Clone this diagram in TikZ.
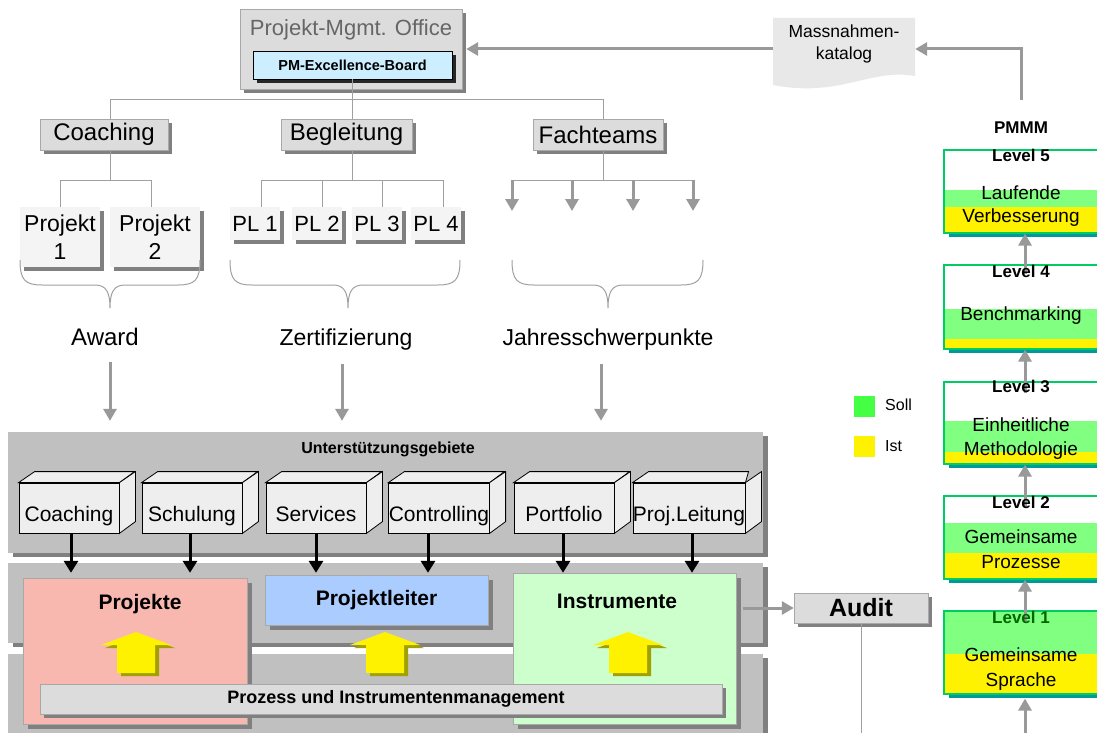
\documentclass[tikz,border=0pt]{standalone}
\usepackage{fontspec}
\setmainfont{Liberation Sans}
\usetikzlibrary{arrows.meta,shadows,calc}
\definecolor{panel}{HTML}{C0C0C0}
\definecolor{shade}{HTML}{808080}
\definecolor{boxg}{HTML}{DCDCDC}
\definecolor{boxb}{HTML}{A8A8A8}
\definecolor{lightbox}{HTML}{F4F4F4}
\definecolor{cubef}{HTML}{EEEEEE}
\definecolor{pinkf}{HTML}{F8B8B0}
\definecolor{plblue}{HTML}{AACCFF}
\definecolor{igreen}{HTML}{CCFFCC}
\definecolor{ydark}{HTML}{A0A000}
\definecolor{lvborder}{HTML}{00CC66}
\definecolor{lvgreen}{HTML}{80FF80}
\definecolor{lvshadow}{HTML}{009999}
\definecolor{sollg}{HTML}{44FF44}
\definecolor{arrg}{HTML}{999999}
\definecolor{pmblue}{HTML}{CCEEFF}
\definecolor{docg}{HTML}{E8E8E8}
\definecolor{treeg}{HTML}{A0A0A0}
\newcommand\cubefaces[1]{%
 \draw[fill=cubef,line width=0.8pt] (#1.north west) -- ++(16,-11) -- ++(100,0) -- (#1.north east) -- cycle;
 \draw[fill=cubef,line width=0.8pt] (#1.north east) -- ++(16,-11) -- ++(0,50) -- (#1.south east) -- cycle;}
\newcommand\bracep[4]{%
 \draw[tree] (#1,#4) .. controls (#1,#4+20) and (#1+5,#4+25) .. (#1+22,#4+25) -- (#3-15,#4+25) .. controls (#3-4,#4+25) and (#3,#4+32) .. (#3,#4+48) .. controls (#3,#4+32) and (#3+4,#4+25) .. (#3+15,#4+25) -- (#2-22,#4+25) .. controls (#2-5,#4+25) and (#2,#4+20) .. (#2,#4);}
\newcommand\lvbox[6]{% name, top, bottom, greentop, yellowtop, centery
 \fill[lvshadow] (949,#3) rectangle (1100,#3+4);
 \fill[white] (944,#2) rectangle (1100,#3);
 \fill[lvgreen] (944,#4) rectangle (1100,#5);
 \fill[yellow] (944,#5) rectangle (1100,#3);
 \node[draw=lvborder,line width=1.2pt,inner sep=0,minimum width=156pt,minimum height=#3pt-#2pt] (#1) at (1022,#6) {};}
\tikzset{
 fs/.style={font=\fontsize{#1}{#1}\selectfont},
 fb/.style={font=\fontsize{#1}{#1}\selectfont\bfseries},
 tree/.style={draw=treeg,line width=1pt},
 garrow/.style={draw=arrg,line width=3pt,-{Triangle[length=12pt,width=13pt]}},
 barrow/.style={draw=black,line width=3pt,-{Triangle[length=12pt,width=14pt]}},
 shbox/.style={draw=boxb,fill=boxg,inner sep=0,drop shadow={shadow xshift=4pt,shadow yshift=-4pt,fill=shade,opacity=1}},
 lbox/.style={fill=lightbox,inner sep=0,drop shadow={shadow xshift=4pt,shadow yshift=-4pt,fill=shade,opacity=1}},
 panelst/.style={fill=panel,inner sep=0,drop shadow={shadow xshift=5pt,shadow yshift=-4pt,fill=shade,opacity=1}},
 mainbox/.style={draw=boxb,inner sep=0,drop shadow={shadow xshift=5pt,shadow yshift=-5pt,fill=shade,opacity=1}},
 cubest/.style={draw=black,fill=cubef,line width=0.8pt,inner sep=0,minimum width=100pt,minimum height=50pt,text height=30pt,text depth=4pt,fs=21},
 yarr/.pic={
  \fill[ydark] (4,3) -- (39,16) -- (23,16) -- (23,44) -- (-15,44) -- (-15,16) -- (-31,16) -- cycle;
  \fill[yellow] (0,0) -- (35,13) -- (19,13) -- (19,41) -- (-19,41) -- (-19,13) -- (-35,13) -- cycle;}
}
\begin{document}
\begin{tikzpicture}[x=1pt,y=-1pt]
\useasboundingbox (0,0) rectangle (1097,733);
\clip (0,0) rectangle (1097,733);
\fill[white] (0,0) rectangle (1097,733);

% ---------- PMO ----------
\node[shbox,minimum width=222pt,minimum height=80pt] (pmo) at (351,49) {};
\node[fs=22,text=black!60] (pmotitle) at (351,30) {Projekt-Mgmt. Office};
\node[draw=black,fill=pmblue,inner sep=0,minimum width=199pt,minimum height=28pt,fb=14.5,
  drop shadow={shadow xshift=4pt,shadow yshift=-4pt,fill=black!85,opacity=1}] (pmb) at (352.5,65) {PM-Excellence-Board};

% ---------- Massnahmenkatalog ----------
\fill[docg] (773,18) -- (915,18) -- (915,76) .. controls (870,68) and (840,98) .. (773,85) -- cycle;
\node[inner sep=0,minimum width=142pt,minimum height=62pt] (massn) at (844,49) {};
\node[font=\fontsize{17.5}{22}\selectfont,align=center] (massnt) at (844,44) {Massnahmen-\\katalog};
\draw[garrow] (massn.west) -- ([xshift=4pt]pmo.east);
\coordinate (mstart) at (1021,100);
\draw[garrow] (mstart) |- (massn.east);

% ---------- tree ----------
\node[shbox,minimum width=128pt,minimum height=31pt,fs=24] (coach) at (104,134.5) {Coaching};
\node[shbox,minimum width=131pt,minimum height=31pt,fs=24] (beg) at (346.5,134.5) {Begleitung};
\node[shbox,minimum width=130pt,minimum height=31pt,fs=24] (fach) at (598,134.5) {Fachteams};
\draw[tree] ([xshift=6pt]coach.north) -- ++(0,-19) -| ([xshift=5pt]fach.north);
\draw[tree] (pmb.south) -- (pmb.south |- beg.north);

\node[lbox,minimum width=80pt,minimum height=60pt,font=\fontsize{23}{28}\selectfont,align=center] (p1) at (60,237) {Projekt\\1};
\node[lbox,minimum width=90pt,minimum height=60pt,font=\fontsize{23}{28}\selectfont,align=center] (p2) at (155,237) {Projekt\\2};
\draw[tree] ([xshift=6pt]coach.south) -- ++(0,30) coordinate (cb);
\draw[tree] (p1.north) |- (cb) -| ([xshift=-4pt]p2.north);

\node[lbox,minimum width=50pt,minimum height=33pt,fs=22] (pl1) at (255,223.5) {PL 1};
\node[lbox,minimum width=50pt,minimum height=33pt,fs=22] (pl2) at (317,223.5) {PL 2};
\node[lbox,minimum width=50pt,minimum height=33pt,fs=22] (pl3) at (377,223.5) {PL 3};
\node[lbox,minimum width=50pt,minimum height=33pt,fs=22] (pl4) at (436,223.5) {PL 4};
\draw[tree] ([xshift=5.5pt]beg.south) -- ++(0,30) coordinate (bb);
\draw[tree] ([xshift=6pt]pl1.north) |- (bb) -| ([xshift=7pt]pl4.north);
\draw[tree] ([xshift=5pt]pl2.north) -- ([xshift=5pt]pl2.north |- bb);
\draw[tree] ([xshift=5pt]pl3.north) -- ([xshift=5pt]pl3.north |- bb);

\draw[tree] ([xshift=5pt]fach.south) -- ++(0,30) coordinate (fb);
\coordinate (fa1) at (512,180); \coordinate (fa2) at (572,180);
\coordinate (fa3) at (633,180); \coordinate (fa4) at (693,180);
\coordinate (ft1) at (512,211); \coordinate (ft2) at (572,211);
\coordinate (ft3) at (633,211); \coordinate (ft4) at (693,211);
\draw[tree] (fa1) |- (fb) -| (fa4);
\foreach \i in {1,2,3,4} {\draw[garrow] (fa\i) -- (ft\i);}

% ---------- braces ----------
\bracep{20}{200}{110}{260}
\bracep{230}{460}{348}{260}
\bracep{512}{703}{608}{260}

\node[fs=24] (award) at (105,337) {Award};
\node[fs=23] (zert) at (346,340) {Zertifizierung};
\node[fs=23] (jahr) at (608,340) {Jahresschwerpunkte};

% ---------- panels ----------
\node[panelst,minimum width=755pt,minimum height=121pt] (pan1) at (385.5,492.5) {};
\node[panelst,minimum width=755pt,minimum height=80pt] (pan2) at (385.5,603) {};
\node[panelst,minimum width=755pt,minimum height=91pt] (pan3) at (385.5,699.5) {};

\draw[garrow,shorten >=11pt] ([xshift=5pt,yshift=-13pt]award.south) -- ([xshift=5pt]award.south |- pan1.north);
\draw[garrow,shorten >=11pt] ([xshift=-4pt,yshift=-10pt]zert.south) -- ([xshift=-4pt]zert.south |- pan1.north);
\draw[garrow,shorten >=11pt] ([xshift=-7pt,yshift=-10pt]jahr.south) -- ([xshift=-7pt]jahr.south |- pan1.north);

\node[fb=16] (untitle) at (388,449) {Unterstützungsgebiete};

% ---------- main boxes ----------
\node[mainbox,fill=pinkf,minimum width=224pt,minimum height=146pt] (proj) at (135,651) {};
\node[fb=21] (projt) at (140,604) {Projekte};
\node[mainbox,fill=plblue,minimum width=223pt,minimum height=50pt,fb=21] (pl) at (376.5,600) {Projektleiter};
\node[mainbox,fill=igreen,minimum width=223pt,minimum height=151pt] (instr) at (624.5,648.5) {};
\node[fb=21] (instrt) at (617,601) {Instrumente};

\pic at (136,632) {yarr};
\pic at (385,632) {yarr};
\pic at (628,632) {yarr};

\node[shbox,minimum width=682pt,minimum height=30pt,fb=18] (proz) at (381,699) {\hspace*{30pt}Prozess und Instrumentenmanagement};

% ---------- cubes ----------
\node[cubest] (c1) at (69,508) {Coaching};
\node[cubest] (c2) at (192,508) {Schulung};
\node[cubest] (c3) at (316,508) {Services};
\node[cubest] (c4) at (439,508) {Controlling};
\node[cubest] (c5) at (564,508) {Portfolio};
\node[cubest] (c6) at (689,508) {Proj.Leitung};
\cubefaces{c1}\cubefaces{c2}\cubefaces{c3}\cubefaces{c4}\cubefaces{c5}\cubefaces{c6}

\draw[barrow,shorten >=5pt] ([xshift=2pt]c1.south) -- ([xshift=2pt]c1.south |- proj.north);
\draw[barrow,shorten >=5pt] ([xshift=-2pt]c2.south) -- ([xshift=-2pt]c2.south |- proj.north);
\draw[barrow,shorten >=2pt] (c3.south) -- (c3.south |- pl.north);
\draw[barrow,shorten >=2pt] ([xshift=-11pt]c4.south) -- ([xshift=-11pt]c4.south |- pl.north);
\draw[barrow] ([xshift=-1pt]c5.south) -- ([xshift=-1pt]c5.south |- instr.north);
\draw[barrow] ([xshift=3pt]c6.south) -- ([xshift=3pt]c6.south |- instr.north);

% ---------- Audit ----------
\node[shbox,minimum width=134pt,minimum height=30pt,fb=25] (audit) at (861,608) {Audit};
\draw[garrow] ([xshift=7pt]instr.east |- audit.west) -- (audit.west);
\coordinate (auditend) at (861,740);
\draw[tree] (audit.south) -- (auditend);

% ---------- legend ----------
\node[fill=sollg,inner sep=0,minimum size=21pt] (soll) at (864.5,406) {};
\node[fs=16,anchor=west,inner sep=0] (sollt) at (885,405) {Soll};
\node[fill=yellow,inner sep=0,minimum size=21pt] (ist) at (864.5,446) {};
\node[fs=16,anchor=west,inner sep=0] (istt) at (885,446) {Ist};

% ---------- PMMM levels ----------
\lvbox{lv5}{150}{233}{190}{207}{191.5}
\lvbox{lv4}{265}{349}{309}{339}{307}
\lvbox{lv3}{382}{464}{421}{452}{423}
\lvbox{lv2}{496}{579}{523}{553}{537.5}
\lvbox{lv1}{611}{694}{611}{654}{652.5}

\draw[garrow] ([xshift=3pt,yshift=-10pt]lv4.north) -- ([xshift=3pt]lv5.south);
\draw[garrow] ([xshift=3pt,yshift=-12pt]lv3.north) -- ([xshift=3pt]lv4.south);
\draw[garrow] ([xshift=3pt,yshift=-12pt]lv2.north) -- ([xshift=3pt]lv3.south);
\draw[garrow] ([xshift=3pt,yshift=-12pt]lv1.north) -- ([xshift=3pt]lv2.south);
\coordinate (lvin) at (1025,740);
\draw[garrow] (lvin) -- ([xshift=3pt,yshift=-4pt]lv1.south);

\node[fb=17] (pmmm) at (1021,128) {PMMM};
\node[fb=17] (l5t) at (1021,155) {Level 5};
\node[font=\fontsize{19}{23}\selectfont,align=center] (l5x) at (1021,206.5) {Laufende\\Verbesserung};
\node[fb=17] (l4t) at (1021,271) {Level 4};
\node[fs=19] (l4x) at (1021,316) {Benchmarking};
\node[fb=17] (l3t) at (1021,386) {Level 3};
\node[font=\fontsize{19}{24}\selectfont,align=center] (l3x) at (1021,439) {Einheitliche\\Methodologie};
\node[fb=17] (l2t) at (1021,502) {Level 2};
\node[font=\fontsize{19}{25}\selectfont,align=center] (l2x) at (1021,549.5) {Gemeinsame\\Prozesse};
\node[fb=17,text=green!40!black] (l1t) at (1021,617) {Level 1};
\node[font=\fontsize{19}{25}\selectfont,align=center] (l1x) at (1021,669.5) {Gemeinsame\\Sprache};
\end{tikzpicture}
\end{document}
